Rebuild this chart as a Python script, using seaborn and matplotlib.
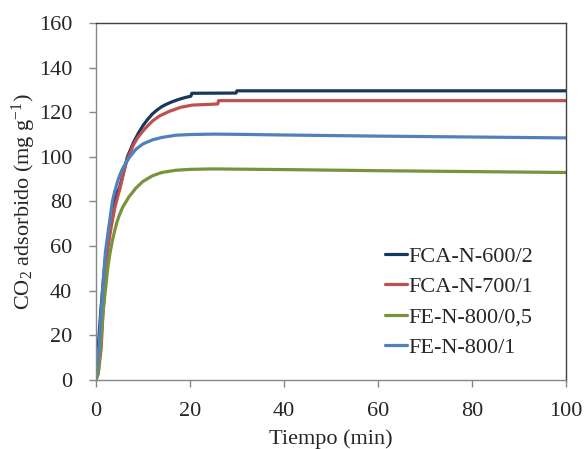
import matplotlib
matplotlib.use("Agg")
import matplotlib.pyplot as plt
import pandas as pd
import seaborn as sns

# values
labels = ["FCA-N-600/2", "FCA-N-700/1", "FE-N-800/0,5", "FE-N-800/1"]
colors = ["#17375E", "#C0504D", "#77933C", "#4F81BD"]

t_600_2 = [0, 0.5, 1, 1.5, 2, 2.5, 3, 3.5, 4, 4.5, 5, 6, 6.7, 8, 9, 10, 11, 12, 13, 14, 15,
           16, 17, 18, 19, 20.2, 20.4, 29.8, 30, 60, 100]
q_600_2 = [0, 15, 30, 43, 54, 63, 70, 76, 81, 84, 86, 94, 100, 106.5, 110.5, 114, 116.8, 119.2, 121, 122.5, 123.6,
           124.5, 125.3, 126, 126.6, 127.2, 128.5, 128.6, 129.6, 129.6, 129.6]

t_700_1 = [0, 0.5, 1.1, 1.5, 1.8, 2.2, 2.6, 3.2, 4, 4.6, 5.2, 6, 6.5, 7.1, 8, 9, 10.5, 12, 13.5, 15.5,
           18, 20.5, 25.9, 26.1, 60, 100]
q_700_1 = [0, 3, 14, 30, 40, 51, 60, 68, 77, 82, 86.5, 94, 98, 101, 105.5, 109, 112.8, 116, 118.3, 120.3,
           122.2, 123.2, 123.7, 125.2, 125.2, 125.2]

t_800_05 = [0, 0.5, 1, 1.5, 2, 2.5, 3, 3.5, 4, 4.5, 5, 5.7, 7, 8.5, 10, 12, 14, 17, 20, 25, 30, 40, 60, 80, 100]
q_800_05 = [0, 3, 16, 30, 40, 50, 57, 62.5, 67, 71, 74, 77.5, 82, 86, 89, 91.5, 93, 94, 94.4, 94.6, 94.5, 94.3,
            93.8, 93.4, 93]

t_800_1 = [0, 0.3, 0.7, 1, 1.4, 2, 2.7, 3.5, 4, 4.75, 5.5, 6, 7.2, 8.5, 10, 12, 14, 17, 20, 25, 30, 40, 60, 80, 100]
q_800_1 = [0, 8, 16, 28, 40, 57, 68, 80, 84.5, 90, 94, 96, 100, 103.4, 105.8, 107.6, 108.7, 109.7, 110, 110.2,
           110.1, 109.8, 109.3, 108.9, 108.5]

series = [(t_600_2, q_600_2), (t_700_1, q_700_1), (t_800_05, q_800_05), (t_800_1, q_800_1)]

sns.set_style("ticks")
plt.rcParams["font.family"] = ["Liberation Serif", "DejaVu Serif"]
plt.rcParams["mathtext.fontset"] = "custom"
plt.rcParams["mathtext.rm"] = "Liberation Serif"
plt.rcParams["mathtext.it"] = "Liberation Serif:italic"

fig = plt.figure(figsize=(5.85, 4.49), dpi=100)
ax = fig.add_axes([0.164, 0.1537, 0.8035, 0.7951])

for name, col, (t, q) in zip(labels, colors, series):
    df = pd.DataFrame({"Tiempo": t, "q": q})
    sns.lineplot(data=df, x="Tiempo", y="q", ax=ax, color=col, linewidth=2.3,
                 label=name, estimator=None, sort=False)

ax.set_xlim(0, 100)
ax.set_ylim(0, 160)
ax.set_xticks(range(0, 101, 20))
ax.set_yticks(range(0, 161, 20))
ax.set_xlabel("Tiempo (min)", fontsize=16, labelpad=6)
ax.set_ylabel("CO$_2$ adsorbido (mg g$^{-1}$)", fontsize=16, labelpad=1)
ax.tick_params(axis="both", labelsize=16, direction="out", length=5, width=1,
               color="#868686")
ax.tick_params(axis="x", pad=11)
ax.tick_params(axis="y", pad=12)

for side in ["left", "bottom"]:
    ax.spines[side].set_color("#868686")
    ax.spines[side].set_linewidth(1)
for side in ["top", "right"]:
    ax.spines[side].set_visible(True)
    ax.spines[side].set_color("#404040")
    ax.spines[side].set_linewidth(1)

ax.legend(loc="center left", bbox_to_anchor=(0.614, 0.218), frameon=False,
          fontsize=16, handlelength=1.0, handletextpad=0.05, labelspacing=0.45,
          borderpad=0, borderaxespad=0)

fig.savefig("out.png", dpi=100)
